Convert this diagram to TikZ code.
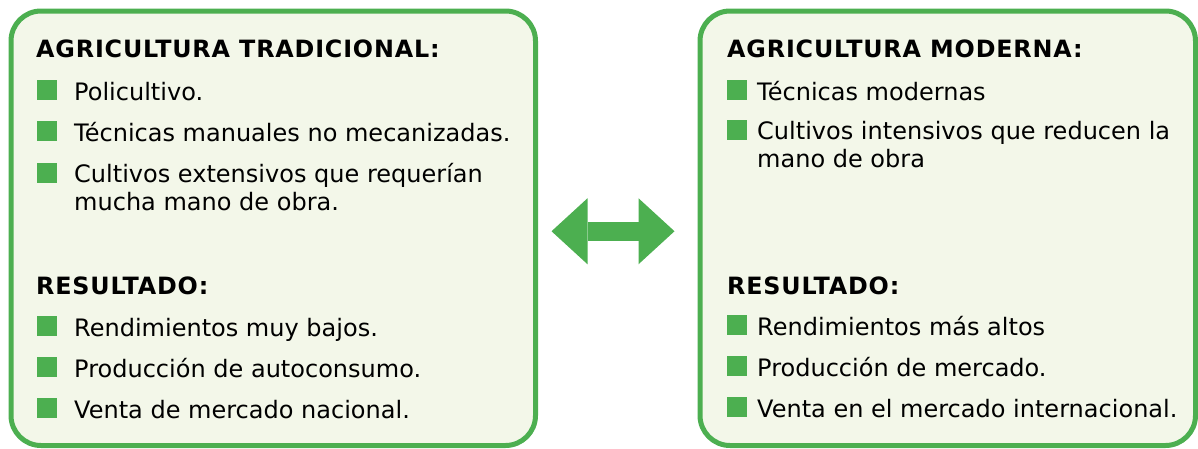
\documentclass[tikz,border=0pt]{standalone}
\usepackage{fontspec}
\setmainfont{DejaVu Sans}
\usepackage{tikz}
\usetikzlibrary{arrows.meta}

\definecolor{verde}{RGB}{76,175,80}
\definecolor{fondo}{RGB}{243,247,233}

\tikzset{
  caja/.style={draw=verde,fill=fondo,line width=5bp,rounded corners=30bp,inner sep=0pt},
  titulo/.style={anchor=base west,inner sep=0pt,font=\fontsize{23.9}{27.6}\selectfont\bfseries\addfontfeatures{LetterSpace=3.5}},
  texto/.style={anchor=base west,inner sep=0pt,align=left,font=\fontsize{24.1}{27.6}\selectfont},
  punto/.style={fill=verde,minimum size=20bp,inner sep=0pt},
}

\begin{document}
\begin{tikzpicture}
\useasboundingbox (0bp,0bp) rectangle (1198bp,-449bp);

\node (izq) at (273.25bp,-228.25bp)[caja,minimum width=524.5bp,minimum height=434.5bp] {};
\node (der) at (947.75bp,-228.25bp)[caja,minimum width=495.5bp,minimum height=434.5bp] {};

\node (tituloI) at (36bp,-57bp)[titulo] {AGRICULTURA TRADICIONAL:};
\node (pI1) at (47bp,-90bp)[punto] {};
\node (I1) at (74bp,-100bp)[texto] {Policultivo.};
\node (pI2) at (47bp,-131bp)[punto] {};
\node (I2) at (74bp,-141bp)[texto] {Técnicas manuales no mecanizadas.};
\node (pI3) at (47bp,-173bp)[punto] {};
\node (I3) at (74bp,-210bp)[texto] {Cultivos extensivos que requerían\\mucha mano de obra.};
\node (resI) at (36bp,-294bp)[titulo] {RESULTADO:};
\node (pR1) at (47bp,-326bp)[punto] {};
\node (R1) at (74bp,-336bp)[texto] {Rendimientos muy bajos.};
\node (pR2) at (47bp,-367bp)[punto] {};
\node (R2) at (74bp,-377bp)[texto] {Producción de autoconsumo.};
\node (pR3) at (47bp,-408bp)[punto] {};
\node (R3) at (74bp,-418bp)[texto] {Venta de mercado nacional.};

\node (tituloD) at (727bp,-57bp)[titulo] {AGRICULTURA MODERNA:};
\node (pD1) at (737bp,-90bp)[punto] {};
\node (D1) at (757bp,-100bp)[texto] {Técnicas modernas};
\node (pD2) at (737bp,-130bp)[punto] {};
\node (D2) at (757bp,-167bp)[texto] {Cultivos intensivos que reducen la\\mano de obra};
\node (resD) at (727bp,-294bp)[titulo] {RESULTADO:};
\node (pS1) at (737bp,-325bp)[punto] {};
\node (S1) at (757bp,-335bp)[texto] {Rendimientos más altos};
\node (pS2) at (737bp,-366bp)[punto] {};
\node (S2) at (757bp,-376bp)[texto] {Producción de mercado.};
\node (pS3) at (737bp,-407bp)[punto] {};
\node (S3) at (757bp,-417bp)[texto] {Venta en el mercado internacional.};

\draw [verde,line width=19bp,{Triangle[length=36bp,width=66bp,line width=0pt]}-{Triangle[length=36bp,width=66bp,line width=0pt]},shorten <=13.5bp,shorten >=23bp] ([yshift=-3bp]izq.east) -- ([yshift=-3bp]der.west);
\end{tikzpicture}
\end{document}
